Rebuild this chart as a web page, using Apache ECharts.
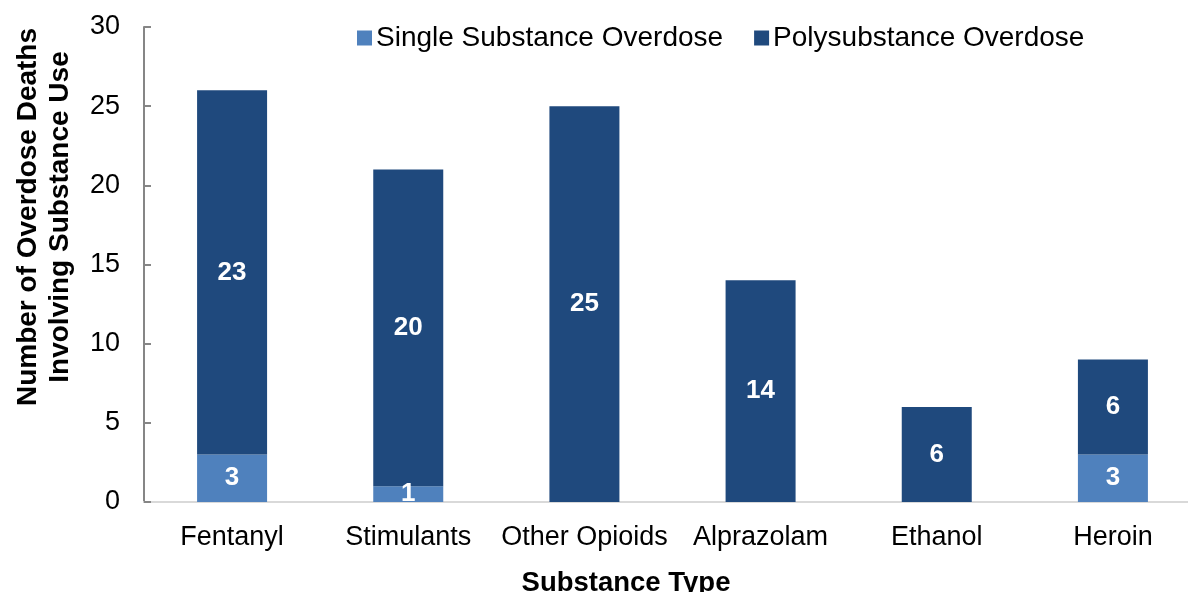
<!DOCTYPE html>
<html><head><meta charset="utf-8">
<script src="https://cdn.jsdelivr.net/npm/echarts@6/dist/echarts.min.js"></script>
<style>html,body{margin:0;padding:0;background:#fff}#c{width:1188px;height:592px}</style>
</head><body><div id="c"></div>
<script>
const categories = ['Fentanyl','Stimulants','Other Opioids','Alprazolam','Ethanol','Heroin'];
const singleValues = [3,1,0,0,0,3];
const polyValues = [23,20,25,14,6,6];
const yTicks = {min:0,max:30,interval:5};
const FONT = '"Liberation Sans", Arial, sans-serif';
const chart = echarts.init(document.getElementById('c'));
const lbl = {show:true,position:'inside',color:'#fff',fontWeight:'bold',fontSize:26,fontFamily:FONT,
  formatter:p=>p.value? String(p.value):''};
chart.setOption({
  animation:false,
  textStyle:{fontFamily:FONT},
  grid:{left:144,right:-13,top:27,bottom:90,containLabel:false,outerBoundsMode:'none'},
  legend:{top:19,left:352,itemWidth:15,itemHeight:15,itemGap:31,icon:'rect',
    textStyle:{fontSize:28,color:'#000',fontFamily:FONT,padding:[0,0,0,-1]},
    data:['Single Substance Overdose','Polysubstance Overdose']},
  title:{text:'Substance Type',left:621,top:564,textAlign:'center',
    textStyle:{fontSize:27.5,fontWeight:'bold',color:'#000',fontFamily:FONT}},
  graphic:[{type:'text',x:44,y:217,rotation:Math.PI/2,
    style:{text:'Number of Overdose Deaths\nInvolving Substance Use',fill:'#000',
      font:'bold 28px "Liberation Sans", Arial, sans-serif',lineHeight:32,
      textAlign:'center',textVerticalAlign:'middle'}}],
  xAxis:{type:'category',data:categories,
    axisLine:{lineStyle:{color:'#d9d9d9',width:2}},axisTick:{show:false},
    axisLabel:{color:'#000',fontSize:27,margin:22,fontFamily:FONT,interval:0}},
  yAxis:{type:'value',min:yTicks.min,max:yTicks.max,interval:yTicks.interval,
    axisLine:{show:true,lineStyle:{color:'#868686',width:2}},
    axisTick:{show:true,inside:true,length:7,lineStyle:{color:'#868686',width:2}},
    splitLine:{show:false},
    axisLabel:{color:'#000',fontSize:27,margin:24,fontFamily:FONT}},
  series:[
    {name:'Single Substance Overdose',type:'bar',stack:'t',barWidth:70,data:singleValues,
      itemStyle:{color:'#4f81bd'},label:lbl},
    {name:'Polysubstance Overdose',type:'bar',stack:'t',barWidth:70,data:polyValues,
      itemStyle:{color:'#1f497d'},label:lbl}
  ]
});
</script></body></html>
